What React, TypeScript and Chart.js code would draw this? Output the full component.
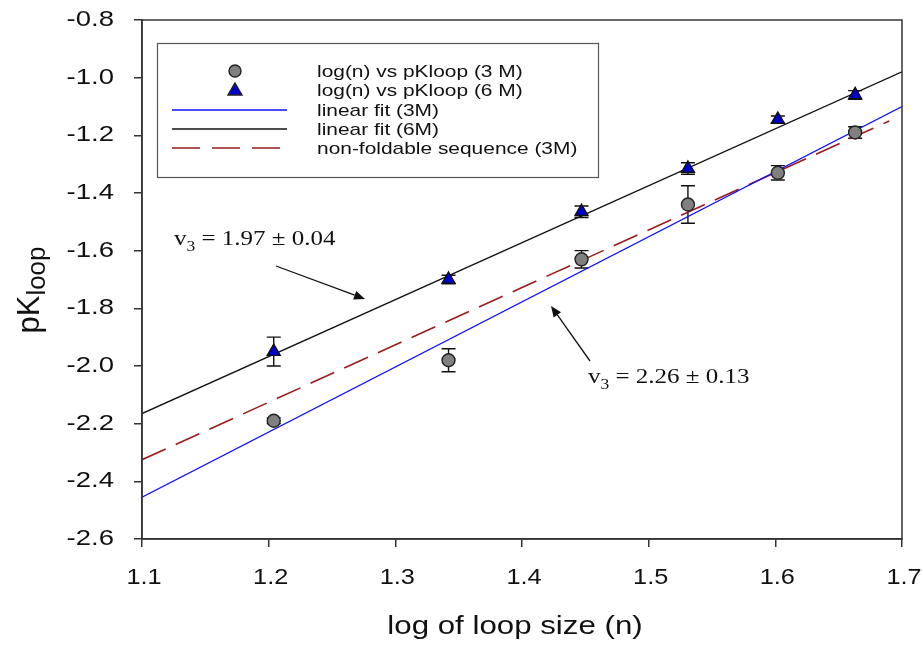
import React, { useEffect, useRef } from "react";
import { Chart, registerables } from "chart.js";

Chart.register(...registerables);

// ---------- data ----------
const LOG_N = [1.204, 1.342, 1.447, 1.531, 1.602, 1.663];
const PK_3M = [-2.19, -1.98, -1.63, -1.44, -1.33, -1.19];
const ERR_3M = [0.01, 0.04, 0.03, 0.065, 0.025, 0.02];
const PK_6M = [-1.95, -1.7, -1.465, -1.315, -1.145, -1.06];
const ERR_6M = [0.05, 0.015, 0.02, 0.02, 0.012, 0.015];

const FIT_3M_X = [1.1, 1.7];
const FIT_3M_Y = [-2.455, -1.1];
const FIT_6M_X = [1.1, 1.7];
const FIT_6M_Y = [-2.165, -0.98];
const NONFOLD_X = [1.1, 1.69];
const NONFOLD_Y = [-2.325, -1.15];

const X_TICKS = [1.1, 1.2, 1.3, 1.4, 1.5, 1.6, 1.7];
const X_TICK_LABELS = ["1.1", "1.2", "1.3", "1.4", "1.5", "1.6", "1.7"];
const Y_TICKS = [-0.8, -1.0, -1.2, -1.4, -1.6, -1.8, -2.0, -2.2, -2.4, -2.6];
const Y_TICK_LABELS = ["-0.8", "-1.0", "-1.2", "-1.4", "-1.6", "-1.8", "-2.0", "-2.2", "-2.4", "-2.6"];

const LEGEND_LABELS = [
  "log(n) vs pKloop (3 M)",
  "log(n) vs pKloop (6 M)",
  "linear fit (3M)",
  "linear fit (6M)",
  "non-foldable sequence (3M)",
];
const X_TITLE = "log of loop size (n)";
const Y_TITLE_MAIN = "pK";
const Y_TITLE_SUB = "loop";
const SLOPE_6M = " = 1.97 \u00b1 0.04";
const SLOPE_3M = " = 2.26 \u00b1 0.13";

// ---------- styles ----------
const SX = 1.25; // horizontal stretch of the original figure's text
const SANS = '"Liberation Sans", Arial, sans-serif';
const SERIF = '"Liberation Serif", "Times New Roman", serif';
const AXIS_COLOR = "#333333";
const GRAY = "#808080";
const BLUE_FILL = "#0000cc";
const BLUE_LINE = "#1010ff";
const RED = "#9b1c1c";

function sText(
  ctx: CanvasRenderingContext2D,
  text: string,
  x: number,
  y: number,
  font: string,
  align: "left" | "center" | "right",
  sx = SX
) {
  ctx.save();
  ctx.font = font;
  ctx.textBaseline = "middle";
  ctx.textAlign = "left";
  const w = ctx.measureText(text).width * sx;
  const left = align === "center" ? x - w / 2 : align === "right" ? x - w : x;
  ctx.translate(left, y);
  ctx.scale(sx, 1);
  ctx.fillText(text, 0, 0);
  ctx.restore();
  return w;
}

function arrow(ctx: CanvasRenderingContext2D, x1: number, y1: number, x2: number, y2: number) {
  const ang = Math.atan2(y2 - y1, x2 - x1);
  const hl = 11;
  const hw = 4.5;
  ctx.save();
  ctx.strokeStyle = "#111";
  ctx.fillStyle = "#111";
  ctx.lineWidth = 1.3;
  ctx.beginPath();
  ctx.moveTo(x1, y1);
  ctx.lineTo(x2 - Math.cos(ang) * hl, y2 - Math.sin(ang) * hl);
  ctx.stroke();
  ctx.beginPath();
  ctx.moveTo(x2, y2);
  ctx.lineTo(
    x2 - Math.cos(ang) * hl - Math.sin(ang) * hw,
    y2 - Math.sin(ang) * hl + Math.cos(ang) * hw
  );
  ctx.lineTo(
    x2 - Math.cos(ang) * hl + Math.sin(ang) * hw,
    y2 - Math.sin(ang) * hl - Math.cos(ang) * hw
  );
  ctx.closePath();
  ctx.fill();
  ctx.restore();
}

function slopeLabel(ctx: CanvasRenderingContext2D, x: number, y: number, rest: string) {
  ctx.fillStyle = "#111";
  let cx = x;
  cx += sText(ctx, "v", cx, y, `20px ${SERIF}`, "left");
  cx += sText(ctx, "3", cx, y + 7, `14px ${SERIF}`, "left");
  sText(ctx, rest, cx, y, `20px ${SERIF}`, "left");
}

const decorPlugin = {
  id: "decor",
  beforeDatasetsDraw(chart: any) {
    const ctx: CanvasRenderingContext2D = chart.ctx;
    const xs = chart.scales.x;
    const ys = chart.scales.y;
    ctx.save();
    ctx.strokeStyle = "#111";
    ctx.lineWidth = 1.4;
    const cap = 7;
    const drawErr = (xv: number[], yv: number[], ev: number[]) => {
      xv.forEach((xx, i) => {
        const px = xs.getPixelForValue(xx);
        const top = ys.getPixelForValue(yv[i] + ev[i]);
        const bot = ys.getPixelForValue(yv[i] - ev[i]);
        ctx.beginPath();
        ctx.moveTo(px, top);
        ctx.lineTo(px, bot);
        ctx.moveTo(px - cap, top);
        ctx.lineTo(px + cap, top);
        ctx.moveTo(px - cap, bot);
        ctx.lineTo(px + cap, bot);
        ctx.stroke();
      });
    };
    drawErr(LOG_N, PK_3M, ERR_3M);
    drawErr(LOG_N, PK_6M, ERR_6M);
    ctx.restore();
  },
  afterDraw(chart: any) {
    const ctx: CanvasRenderingContext2D = chart.ctx;
    const a = chart.chartArea;
    const xs = chart.scales.x;
    const ys = chart.scales.y;
    ctx.save();
    // frame
    ctx.strokeStyle = AXIS_COLOR;
    ctx.lineWidth = 1.5;
    ctx.strokeRect(a.left, a.top, a.right - a.left, a.bottom - a.top);

    // tick labels
    ctx.fillStyle = "#111";
    Y_TICKS.forEach((v, i) => {
      const py = ys.getPixelForValue(v);
      sText(ctx, Y_TICK_LABELS[i], a.left - 28, py, `22px ${SANS}`, "right");
    });
    X_TICKS.forEach((v, i) => {
      const px = xs.getPixelForValue(v);
      sText(ctx, X_TICK_LABELS[i], px + 2, a.bottom + 39, `22px ${SANS}`, "center", 1.15);
    });

    // axis titles
    sText(ctx, X_TITLE, 515, 627, `25px ${SANS}`, "center", 1.25);
    ctx.save();
    ctx.translate(30, 290);
    ctx.rotate(-Math.PI / 2);
    ctx.font = `31px ${SANS}`;
    const w1 = ctx.measureText(Y_TITLE_MAIN).width;
    ctx.font = `26px ${SANS}`;
    const w2 = ctx.measureText(Y_TITLE_SUB).width;
    const start = -(w1 + w2) / 2;
    ctx.textBaseline = "middle";
    ctx.textAlign = "left";
    ctx.font = `31px ${SANS}`;
    ctx.fillText(Y_TITLE_MAIN, start, 0);
    ctx.font = `26px ${SANS}`;
    ctx.fillText(Y_TITLE_SUB, start + w1, 8);
    ctx.restore();

    // legend
    const lx = 157, ly = 43, lw = 441, lh = 134;
    ctx.fillStyle = "#fff";
    ctx.fillRect(lx, ly, lw, lh);
    ctx.strokeStyle = "#555";
    ctx.lineWidth = 1.2;
    ctx.strokeRect(lx + 0.5, ly + 0.5, lw, lh);
    const rows = [71, 90, 110, 129, 148];
    // circle
    ctx.beginPath();
    ctx.arc(235, rows[0], 6, 0, Math.PI * 2);
    ctx.fillStyle = GRAY;
    ctx.fill();
    ctx.strokeStyle = "#222";
    ctx.lineWidth = 1.4;
    ctx.stroke();
    // triangle
    ctx.beginPath();
    ctx.moveTo(235, rows[1] - 7);
    ctx.lineTo(242, rows[1] + 5);
    ctx.lineTo(228, rows[1] + 5);
    ctx.closePath();
    ctx.fillStyle = BLUE_FILL;
    ctx.fill();
    ctx.stroke();
    // lines
    ctx.lineWidth = 1.3;
    ctx.strokeStyle = BLUE_LINE;
    ctx.beginPath();
    ctx.moveTo(172, rows[2]);
    ctx.lineTo(287, rows[2]);
    ctx.stroke();
    ctx.strokeStyle = "#111";
    ctx.beginPath();
    ctx.moveTo(172, rows[3]);
    ctx.lineTo(287, rows[3]);
    ctx.stroke();
    ctx.strokeStyle = RED;
    ctx.lineWidth = 1.5;
    ctx.setLineDash([28, 12]);
    ctx.beginPath();
    ctx.moveTo(172, rows[4]);
    ctx.lineTo(280, rows[4]);
    ctx.stroke();
    ctx.setLineDash([]);
    ctx.fillStyle = "#111";
    LEGEND_LABELS.forEach((t, i) => {
      sText(ctx, t, 317, rows[i] + 1, `17px ${SANS}`, "left", 1.23);
    });

    // annotations
    slopeLabel(ctx, 174, 240, SLOPE_6M);
    arrow(ctx, 276, 266, 365, 299);
    slopeLabel(ctx, 588, 378, SLOPE_3M);
    arrow(ctx, 590, 361, 551, 306);
    ctx.restore();
  },
};

export default function App() {
  const ref = useRef<HTMLCanvasElement | null>(null);
  useEffect(() => {
    if (!ref.current) return;
    const gridOpts = {
      display: true,
      drawOnChartArea: false,
      drawTicks: true,
      tickLength: 8,
      color: AXIS_COLOR,
      lineWidth: 1.5,
    };
    const chart = new Chart(ref.current, {
      type: "scatter",
      data: {
        datasets: [
          {
            label: LEGEND_LABELS[0],
            data: LOG_N.map((x, i) => ({ x, y: PK_3M[i] })),
            pointStyle: "circle",
            pointRadius: 6.5,
            backgroundColor: GRAY,
            borderColor: "#222",
            borderWidth: 1.4,
            showLine: false,
          },
          {
            label: LEGEND_LABELS[1],
            data: LOG_N.map((x, i) => ({ x, y: PK_6M[i] })),
            pointStyle: "triangle",
            pointRadius: 7.5,
            backgroundColor: BLUE_FILL,
            borderColor: "#111",
            borderWidth: 1.4,
            showLine: false,
          },
          {
            label: LEGEND_LABELS[2],
            data: FIT_3M_X.map((x, i) => ({ x, y: FIT_3M_Y[i] })),
            showLine: true,
            pointRadius: 0,
            borderColor: BLUE_LINE,
            borderWidth: 1.3,
          },
          {
            label: LEGEND_LABELS[3],
            data: FIT_6M_X.map((x, i) => ({ x, y: FIT_6M_Y[i] })),
            showLine: true,
            pointRadius: 0,
            borderColor: "#111",
            borderWidth: 1.3,
          },
          {
            label: LEGEND_LABELS[4],
            data: NONFOLD_X.map((x, i) => ({ x, y: NONFOLD_Y[i] })),
            showLine: true,
            pointRadius: 0,
            borderColor: RED,
            borderWidth: 1.6,
            borderDash: [26, 11],
          },
        ],
      },
      options: {
        animation: false,
        responsive: false,
        devicePixelRatio: 1,
        layout: { padding: { top: 20, right: 20, left: 0, bottom: 0 } },
        plugins: { legend: { display: false }, tooltip: { enabled: false } },
        scales: {
          x: {
            type: "linear",
            min: 1.1,
            max: 1.7,
            ticks: { display: false },
            afterBuildTicks: (s: any) => {
              s.ticks = X_TICKS.map((v) => ({ value: v }));
            },
            afterFit: (s: any) => {
              s.height = 107;
            },
            grid: gridOpts,
            border: { display: true, color: AXIS_COLOR, width: 1.5 },
          },
          y: {
            type: "linear",
            min: -2.6,
            max: -0.8,
            ticks: { display: false },
            afterBuildTicks: (s: any) => {
              s.ticks = Y_TICKS.map((v) => ({ value: v }));
            },
            afterFit: (s: any) => {
              s.width = 142;
            },
            grid: gridOpts,
            border: { display: true, color: AXIS_COLOR, width: 1.5 },
          },
        },
      },
      plugins: [decorPlugin],
    } as any);
    return () => chart.destroy();
  }, []);
  return (
    <div style={{ position: "fixed", left: 0, top: 0, width: 922, height: 646, background: "#fff" }}>
      <canvas ref={ref} width={922} height={646} style={{ display: "block" }} />
    </div>
  );
}
